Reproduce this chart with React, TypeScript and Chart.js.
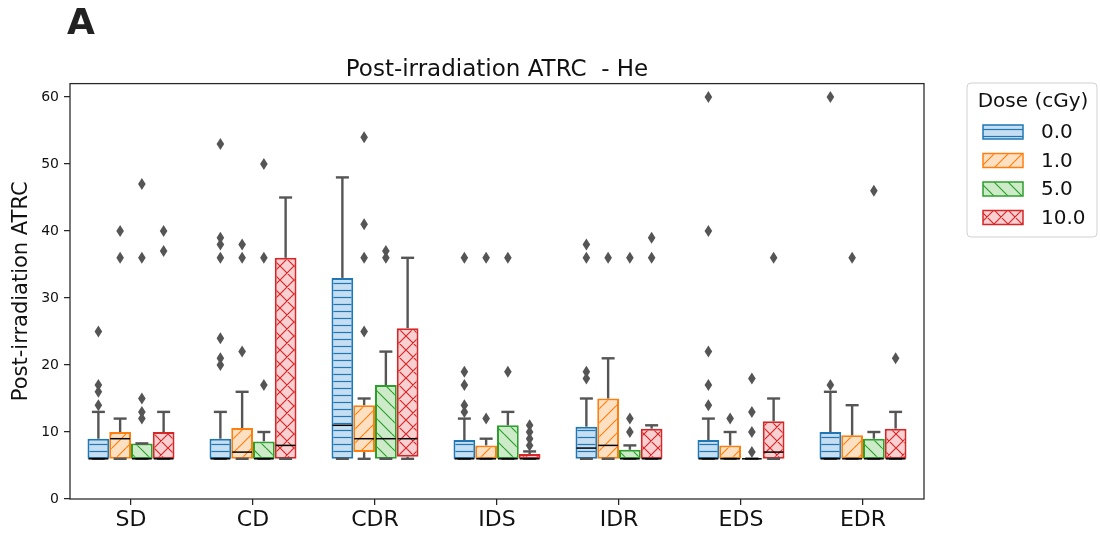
import React, { useEffect, useRef } from 'react';
import { Chart, registerables } from 'chart.js';

Chart.register(...registerables);

const categories = ['SD', 'CD', 'CDR', 'IDS', 'IDR', 'EDS', 'EDR'];
const doseLabels = ['0.0', '1.0', '5.0', '10.0'];

// per dose (rows) and category (columns)
const q1Values = [
  [6, 6, 6, 6, 6, 6, 6],
  [6, 6, 7, 6, 6, 6, 6],
  [6, 6, 6, 6, 6, 6, 6],
  [6, 6, 6.3, 6, 6, 6, 6],
];
const medianValues = [
  [6, 6, 11, 6, 7.6, 6, 6],
  [9, 7, 9, 6, 8, 6, 6],
  [6, 6, 9, 6, 6, 6, 6],
  [6, 8, 9, 6, 6, 7, 6],
];
const q3Values = [
  [9, 9, 33, 8.8, 10.8, 8.8, 10],
  [10, 10.6, 14, 8, 15, 8, 9.5],
  [8.3, 8.6, 17, 11, 7.35, 6, 9],
  [10, 36, 25.5, 6.7, 10.5, 11.6, 10.5],
];
const whiskerLowValues = [
  [6, 6, 6, 6, 6, 6, 6],
  [6, 6, 6, 6, 6, 6, 6],
  [6, 6, 6, 6, 6, 6, 6],
  [6, 6, 6, 6, 6, 6, 6],
];
const whiskerHighValues = [
  [13, 13, 48, 12, 15, 12, 16],
  [12, 16, 15, 9, 21, 10, 14],
  [8.3, 10, 22, 13, 8, 6, 10],
  [13, 45, 36, 7.1, 11, 15, 13],
];
const outlierValues = [
  [[25, 17, 16, 14], [53, 39, 38, 36, 24, 21, 20], [], [36, 19, 17, 14, 13], [38, 36, 19, 18], [60, 40, 22, 17, 14], [60, 17]],
  [[40, 36], [38, 36, 22], [54, 41, 36, 25], [36, 12], [36], [12], [36]],
  [[47, 36, 15, 13, 12], [50, 36, 17], [37, 36], [36, 19], [36, 12, 10], [18, 13, 10, 7], [46]],
  [[40, 37], [], [], [11, 10, 9, 8], [39, 36], [36], [21]],
];

const yTicks = [0, 10, 20, 30, 40, 50, 60];

const edgeColors = ['#1f77b4', '#ff7f0e', '#2ca02c', '#d62728'];
const fillColors = ['#c6def2', '#fde0c2', '#cdebc9', '#f8d0d2'];
const hatchKinds = ['-', '/', '\\', 'x'];

const FONT = '"DejaVu Sans", "Liberation Sans", sans-serif';

function makePattern(kind: string, fill: string, stroke: string): CanvasPattern | string {
  const size = kind === '-' ? 7 : 14;
  const c = document.createElement('canvas');
  c.width = size;
  c.height = size;
  const g = c.getContext('2d');
  if (!g) return fill;
  g.fillStyle = fill;
  g.fillRect(0, 0, size, size);
  g.strokeStyle = stroke;
  g.lineWidth = 1.2;
  g.beginPath();
  if (kind === '-') {
    g.moveTo(0, 3.5);
    g.lineTo(size, 3.5);
  }
  if (kind === '/' || kind === 'x') {
    for (let k = -1; k <= 1; k++) {
      g.moveTo(k * size, size);
      g.lineTo(k * size + size, 0);
    }
  }
  if (kind === '\\' || kind === 'x') {
    for (let k = -1; k <= 1; k++) {
      g.moveTo(k * size, 0);
      g.lineTo(k * size + size, size);
    }
  }
  g.stroke();
  const p = g.createPattern(c, 'repeat');
  return p || fill;
}

export default function App() {
  const ref = useRef<HTMLCanvasElement | null>(null);

  useEffect(() => {
    const canvas = ref.current;
    if (!canvas) return;
    const patterns = hatchKinds.map((k, i) => makePattern(k, fillColors[i], edgeColors[i]));

    const line = (ctx: CanvasRenderingContext2D, x1: number, y1: number, x2: number, y2: number) => {
      ctx.beginPath();
      ctx.moveTo(x1, y1);
      ctx.lineTo(x2, y2);
      ctx.stroke();
    };

    const boxPlugin = {
      id: 'boxExtras',
      afterDatasetsDraw(chart: any) {
        const ctx: CanvasRenderingContext2D = chart.ctx;
        const ys = chart.scales.y;
        const py = (v: number) => ys.getPixelForValue(v);
        chart.data.datasets.forEach((_ds: any, i: number) => {
          const meta = chart.getDatasetMeta(i);
          meta.data.forEach((bar: any, j: number) => {
            const x = bar.x;
            const w = bar.width;
            const capHalf = 6.5;
            ctx.save();
            ctx.strokeStyle = '#555555';
            ctx.lineWidth = 2.4;
            ctx.lineCap = 'butt';
            line(ctx, x, py(q3Values[i][j]), x, py(whiskerHighValues[i][j]));
            line(ctx, x, py(q1Values[i][j]), x, py(whiskerLowValues[i][j]));
            line(ctx, x - capHalf, py(whiskerHighValues[i][j]), x + capHalf, py(whiskerHighValues[i][j]));
            line(ctx, x - capHalf, py(whiskerLowValues[i][j]), x + capHalf, py(whiskerLowValues[i][j]));
            ctx.strokeStyle = '#000000';
            ctx.lineWidth = 1.5;
            const ym = py(medianValues[i][j]);
            line(ctx, x - w / 2 + 1, ym, x + w / 2 - 1, ym);
            ctx.fillStyle = '#555555';
            outlierValues[i][j].forEach((v: number) => {
              const yy = py(v);
              ctx.beginPath();
              ctx.moveTo(x, yy - 6);
              ctx.lineTo(x + 3.8, yy);
              ctx.lineTo(x, yy + 6);
              ctx.lineTo(x - 3.8, yy);
              ctx.closePath();
              ctx.fill();
            });
            ctx.restore();
          });
        });
      },
      afterDraw(chart: any) {
        const ctx: CanvasRenderingContext2D = chart.ctx;
        const a = chart.chartArea;
        ctx.save();
        ctx.strokeStyle = '#262626';
        ctx.lineWidth = 1.25;
        ctx.strokeRect(a.left, a.top, a.right - a.left, a.bottom - a.top);

        // legend
        const lx = 967, ly = 83, lw = 130, lh = 154, r = 4;
        ctx.beginPath();
        ctx.moveTo(lx + r, ly);
        ctx.lineTo(lx + lw - r, ly);
        ctx.quadraticCurveTo(lx + lw, ly, lx + lw, ly + r);
        ctx.lineTo(lx + lw, ly + lh - r);
        ctx.quadraticCurveTo(lx + lw, ly + lh, lx + lw - r, ly + lh);
        ctx.lineTo(lx + r, ly + lh);
        ctx.quadraticCurveTo(lx, ly + lh, lx, ly + lh - r);
        ctx.lineTo(lx, ly + r);
        ctx.quadraticCurveTo(lx, ly, lx + r, ly);
        ctx.closePath();
        ctx.fillStyle = 'rgba(255,255,255,0.8)';
        ctx.fill();
        ctx.strokeStyle = '#d0d0d0';
        ctx.lineWidth = 1;
        ctx.stroke();

        ctx.fillStyle = '#111111';
        ctx.font = `20px ${FONT}`;
        ctx.textBaseline = 'middle';
        ctx.textAlign = 'center';
        ctx.fillText('Dose (cGy)', 1033, 102);
        ctx.textAlign = 'left';
        doseLabels.forEach((d, i) => {
          const cy = 132 + i * 28.5;
          ctx.fillStyle = patterns[i] as any;
          ctx.fillRect(983, cy - 7, 40, 14);
          ctx.strokeStyle = edgeColors[i];
          ctx.lineWidth = 1.5;
          ctx.strokeRect(983, cy - 7, 40, 14);
          ctx.fillStyle = '#111111';
          ctx.fillText(d, 1041, cy + 1);
        });
        ctx.restore();
      },
    };

    const chart = new Chart(canvas, {
      type: 'bar',
      data: {
        labels: categories,
        datasets: doseLabels.map((d, i) => ({
          label: d,
          data: q1Values[i].map((v, j) => [v, q3Values[i][j]]) as any,
          backgroundColor: patterns[i] as any,
          borderColor: edgeColors[i],
          borderWidth: 2,
          borderSkipped: false,
          categoryPercentage: 0.713,
          barPercentage: 1.0,
        })),
      },
      options: {
        responsive: false,
        animation: false,
        devicePixelRatio: 1,
        layout: { padding: { left: 0, right: 176, top: 56, bottom: 0 } },
        plugins: {
          legend: { display: false },
          tooltip: { enabled: false },
          title: {
            display: true,
            text: 'Post-irradiation ATRC  - He',
            fullSize: false,
            color: '#111111',
            font: { family: FONT, size: 23, weight: 'normal' },
            padding: { top: 0, bottom: 0 },
          },
        },
        scales: {
          x: {
            type: 'category',
            offset: true,
            border: { display: false },
            grid: { drawOnChartArea: false, drawTicks: true, tickLength: 6, offset: false, color: '#262626', lineWidth: 1.25 },
            ticks: { color: '#111111', font: { family: FONT, size: 22 }, padding: 2, maxRotation: 0 },
            afterFit: (scale: any) => { scale.height = 38; },
          },
          y: {
            min: 0,
            max: 62,
            border: { display: false },
            grid: { drawOnChartArea: false, drawTicks: true, tickLength: 6, color: '#262626', lineWidth: 1.25 },
            ticks: { stepSize: 10, includeBounds: false, color: '#111111', font: { family: FONT, size: 14 }, padding: 5 },
            afterBuildTicks: (scale: any) => { scale.ticks = yTicks.map((v) => ({ value: v })); },
            title: {
              display: true,
              text: 'Post-irradiation ATRC',
              color: '#111111',
              font: { family: FONT, size: 21, weight: 'normal' },
              padding: { top: 9, bottom: 0 },
            },
            afterFit: (scale: any) => { scale.width = 70; },
          },
        },
      },
      plugins: [boxPlugin],
    } as any);

    return () => { chart.destroy(); };
  }, []);

  return (
    <div style={{ position: 'absolute', left: 0, top: 0, width: 1100, height: 537, background: '#ffffff' }}>
      <div
        style={{
          position: 'absolute',
          left: 67,
          top: 4,
          fontFamily: FONT,
          fontWeight: 'bold',
          fontSize: 36,
          lineHeight: '36px',
          color: '#222222',
        }}
      >
        A
      </div>
      <canvas ref={ref} width={1100} height={537} style={{ display: 'block', width: 1100, height: 537 }} />
    </div>
  );
}
